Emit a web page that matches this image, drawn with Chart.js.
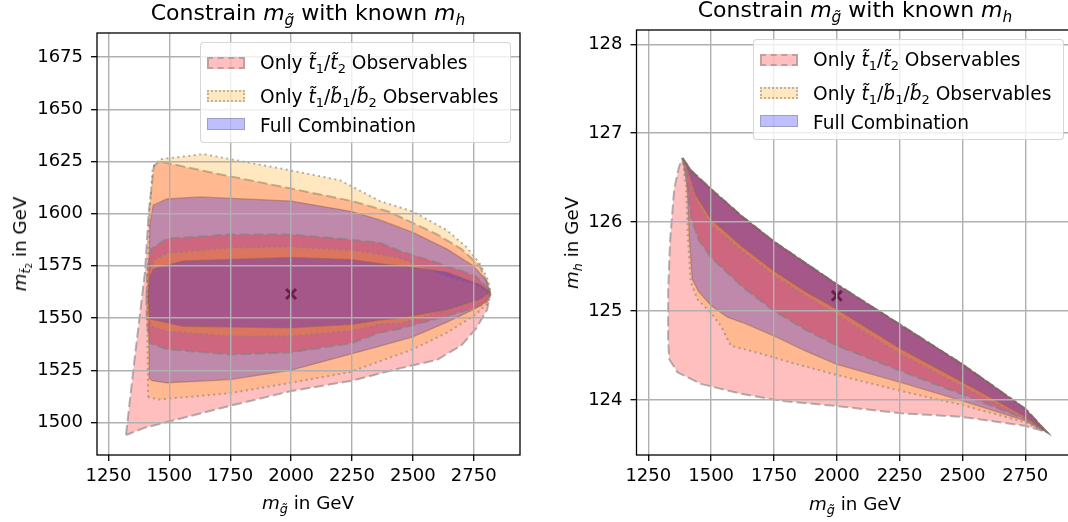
<!DOCTYPE html>
<html>
<head>
<meta charset="utf-8">
<script src="https://cdn.jsdelivr.net/npm/chart.js"></script>
<style>
body { margin: 0; background: #fff; font-family: 'DejaVu Sans', sans-serif; }
#wrap { position: relative; width: 1068px; height: 522px; overflow: hidden; }
canvas { position: absolute; top: 0; }
.txt { position: absolute; white-space: nowrap; color: #000; font-size: 18.3px; line-height: 18px; }
.title { font-size: 22px; line-height: 22px; transform: translateX(-50%); }
.xlab { transform: translateX(-50%); }
.ylab { transform: translate(-50%, -50%) rotate(-90deg); }
sub { font-size: 70%; vertical-align: baseline; position: relative; top: 0.3em; line-height: 0; }
sub sub { top: 0.2em; }
.legend { position: absolute; width: 311px; height: 101px; box-sizing: border-box;
          background: rgba(255,255,255,0.8); border: 1px solid rgba(204,204,204,0.8); border-radius: 4px; }
.sw { position: absolute; left: 6px; width: 38px; height: 12px; box-sizing: border-box; }
.lt { position: absolute; left: 59px; white-space: nowrap; font-size: 18.6px; line-height: 18px; }
</style>
</head>
<body>
<div id="wrap">
  <canvas id="leftChart" width="534" height="522" style="left:0;width:534px;height:522px"></canvas>
  <canvas id="rightChart" width="560" height="522" style="left:534px;width:560px;height:522px"></canvas>

  <div class="txt title" style="left:308px;top:2px">Constrain <i>m</i><sub><i>g&#771;</i></sub> with known <i>m</i><sub><i>h</i></sub></div>
  <div class="txt title" style="left:855px;top:-1px">Constrain <i>m</i><sub><i>g&#771;</i></sub> with known <i>m</i><sub><i>h</i></sub></div>

  <div class="txt xlab" style="left:308px;top:494px"><i>m</i><sub><i>g&#771;</i></sub> in GeV</div>
  <div class="txt xlab" style="left:855px;top:495px"><i>m</i><sub><i>g&#771;</i></sub> in GeV</div>

  <div class="txt ylab" style="left:20px;top:244px"><i>m</i><sub><i>t&#771;</i><sub>2</sub></sub> in GeV</div>
  <div class="txt ylab" style="left:572px;top:243px"><i>m</i><sub><i>h</i></sub> in GeV</div>

  <div class="legend" style="left:200px;top:42px">
    <div class="sw" style="top:14px;background:rgba(255,0,0,0.25);border:2px dashed rgba(128,128,128,0.5)"></div>
    <div class="lt" style="top:11px">Only <i>t&#771;</i><sub>1</sub>/<i>t&#771;</i><sub>2</sub> Observables</div>
    <div class="sw" style="top:47px;background:rgba(255,165,0,0.25);border:2px dotted rgba(128,128,128,0.5)"></div>
    <div class="lt" style="top:45px">Only <i>t&#771;</i><sub>1</sub>/<i>b&#771;</i><sub>1</sub>/<i>b&#771;</i><sub>2</sub> Observables</div>
    <div class="sw" style="top:75px;background:rgba(0,0,255,0.25);border:1.5px solid rgba(128,128,128,0.5)"></div>
    <div class="lt" style="top:74px">Full Combination</div>
  </div>
  <div class="legend" style="left:753px;top:39px">
    <div class="sw" style="top:14px;background:rgba(255,0,0,0.25);border:2px dashed rgba(128,128,128,0.5)"></div>
    <div class="lt" style="top:11px">Only <i>t&#771;</i><sub>1</sub>/<i>t&#771;</i><sub>2</sub> Observables</div>
    <div class="sw" style="top:47px;background:rgba(255,165,0,0.25);border:2px dotted rgba(128,128,128,0.5)"></div>
    <div class="lt" style="top:45px">Only <i>t&#771;</i><sub>1</sub>/<i>b&#771;</i><sub>1</sub>/<i>b&#771;</i><sub>2</sub> Observables</div>
    <div class="sw" style="top:75px;background:rgba(0,0,255,0.25);border:1.5px solid rgba(128,128,128,0.5)"></div>
    <div class="lt" style="top:74px">Full Combination</div>
  </div>
</div>

<script>
// axis ranges and ticks
const xRange = [1203, 2940];
const xTicks = [1250, 1500, 1750, 2000, 2250, 2500, 2750];
const leftYRange = [1484.4, 1686.5];
const leftYTicks = [1500, 1525, 1550, 1575, 1600, 1625, 1650, 1675];
const rightYRange = [123.38, 128.16];
const rightYTicks = [124, 125, 126, 127, 128];

// best-fit point [m_gluino, m_t2] and [m_gluino, m_h]
const leftBest = [2000, 1561.5];
const rightBest = [2000, 125.17];

// left panel contours (m_gluino, m_t2), outer and inner level for each set
const leftRedOuter = [[1322,1494],[1360,1533],[1400,1572],[1415,1600],[1437,1623],[1460,1625],[1700,1619],[2000,1612],[2250,1606],[2400,1601],[2600,1590],[2700,1583],[2775,1575],[2805,1567],[2818,1562],[2805,1554],[2760,1545],[2700,1537],[2600,1530],[2450,1526],[2250,1520],[2000,1515],[1750,1508],[1500,1500.5],[1400,1497.5]];
const leftRedInner = [[1406,1560],[1410,1574],[1425,1583],[1490,1588],[1750,1590],[2000,1590],[2250,1587.5],[2364,1586],[2450,1582],[2640,1575],[2760,1570],[2810,1564],[2818,1561],[2800,1557],[2760,1555],[2640,1551],[2450,1545],[2364,1543],[2250,1538],[2000,1533.5],[1750,1532.5],[1490,1535],[1420,1538],[1407,1548]];
const leftOrangeOuter = [[1413,1512],[1410,1540],[1410,1570],[1418,1600],[1432,1622],[1460,1626],[1640,1628.5],[1800,1625],[1985,1621],[2200,1616],[2365,1606],[2500,1601],[2640,1592],[2720,1584],[2775,1576],[2810,1568],[2820,1562],[2810,1557],[2750,1551],[2640,1543],[2500,1535],[2240,1524],[2000,1519],[1750,1514],[1460,1511]];
const leftOrangeInner = [[1412,1560],[1418,1572],[1440,1578],[1490,1581],[1750,1583.7],[2000,1584],[2250,1582.5],[2364,1580.5],[2450,1578.5],[2640,1570],[2760,1566],[2815,1562],[2760,1558],[2640,1554],[2450,1547.5],[2364,1547],[2250,1544],[2000,1541.3],[1750,1541.3],[1490,1543.7],[1425,1546],[1412,1552]];
const leftBlueOuter = [[1418,1521],[1415,1560],[1420,1595],[1434,1604],[1490,1607],[1625,1608],[2000,1606],[2250,1601],[2364,1597],[2500,1591],[2640,1583],[2747,1575],[2802,1568],[2818,1562],[2800,1558],[2747,1554],[2640,1548],[2500,1541],[2364,1536.5],[2000,1525],[1750,1520.5],[1490,1519],[1430,1520]];
const leftBlueInner = [[1413,1560],[1420,1570],[1434,1573.5],[1557,1577.3],[2002,1579],[2250,1578],[2364,1576],[2446,1575],[2638,1572],[2775,1566],[2816,1562.5],[2775,1559],[2638,1554],[2446,1550],[2364,1549],[2250,1547],[2002,1545.3],[1557,1546],[1420,1549.5]];

// right panel (m_gluino, m_h): all regions share the upper edge, each has its own lower edge
const rightTopEdge = [[1386,126.72],[1420,126.58],[1500,126.37],[1620,126.07],[1750,125.78],[1880,125.53],[2000,125.30],[2250,124.85],[2500,124.40],[2750,123.90],[2835,123.64]];
const rightRedOuterLow = [[2746,123.71],[2494,123.81],[2255,123.85],[2000,123.93],[1777,123.99],[1618,124.07],[1459,124.18],[1366,124.31],[1333,124.46],[1329,124.68],[1329,125.24],[1337,125.8],[1353,126.37],[1372,126.62]];
const rightRedInnerLow = [[2746,123.79],[2500,124.06],[2250,124.33],[2000,124.61],[1875,124.79],[1750,125.00],[1625,125.27],[1500,125.60],[1450,125.80],[1420,126.05],[1408,126.35],[1402,126.55]];
const rightOrangeOuterLow = [[2746,123.75],[2501,123.94],[2255,124.10],[2000,124.28],[1817,124.42],[1685,124.53],[1578,124.61],[1539,124.83],[1499,124.98],[1446,125.13],[1419,125.32],[1408,125.8],[1400,126.4]];
const rightOrangeInnerLow = [[2746,123.80],[2500,124.15],[2250,124.52],[2000,124.96],[1875,125.17],[1750,125.40],[1625,125.67],[1500,125.97],[1440,126.25],[1419,126.44],[1400,126.62]];
const rightBlueOuterLow = [[2746,123.77],[2500,123.99],[2250,124.20],[2000,124.40],[1875,124.55],[1750,124.72],[1625,124.87],[1565,124.93],[1500,125.06],[1450,125.22],[1425,125.36],[1414,125.8],[1405,126.4]];
const rightBlueInnerLow = [[2746,123.82],[2500,124.20],[2250,124.58],[2000,125.02],[1875,125.22],[1750,125.45],[1625,125.72],[1500,126.03],[1440,126.30],[1419,126.48],[1402,126.63]];

const RED = 'rgba(255,0,0,0.25)';
const ORANGE = 'rgba(255,165,0,0.25)';
const BLUE = 'rgba(0,0,255,0.25)';
const EDGE = 'rgba(128,128,128,0.6)';
const SOLID_EDGE = 'rgba(150,100,70,0.5)';

// one closed filled polygon
function contour(points, fill, edge, dash, width, order) {
    const closed = points.concat([points[0]]);
    return {
        data: closed.map(p => ({ x: p[0], y: p[1] })),
        showLine: true,
        fill: 'shape',
        backgroundColor: fill,
        borderColor: edge,
        borderWidth: width,
        borderDash: dash,
        pointRadius: 0,
        pointHoverRadius: 0,
        tension: 0,
        order: order
    };
}

function bestMarker(p) {
    return {
        data: [{ x: p[0], y: p[1] }],
        pointStyle: 'crossRot',
        pointRadius: 7,
        borderWidth: 3,
        borderColor: 'rgba(90,10,60,0.75)',
        backgroundColor: 'rgba(90,10,60,0.75)',
        showLine: false,
        order: 0
    };
}

// draws the four spines like matplotlib
const framePlugin = {
    id: 'frame',
    afterDraw(chart) {
        const a = chart.chartArea;
        const ctx = chart.ctx;
        ctx.save();
        ctx.strokeStyle = '#000';
        ctx.lineWidth = 1.3;
        ctx.strokeRect(a.left, a.top, a.right - a.left, a.bottom - a.top);
        ctx.restore();
    }
};

function axis(range, ticks, fit) {
    return {
        type: 'linear',
        min: range[0],
        max: range[1],
        afterBuildTicks: s => { s.ticks = ticks.map(v => ({ value: v })); },
        afterFit: fit,
        grid: { color: '#b0b0b0', lineWidth: 1.4, z: 1, drawTicks: true, tickLength: 6, tickColor: '#000', tickWidth: 1.3 },
        border: { display: false },
        ticks: {
            color: '#000',
            font: { family: 'DejaVu Sans', size: 18 },
            autoSkip: false,
            maxRotation: 0,
            padding: 5,
            callback: v => String(v)
        }
    };
}

function initializeChart(id, datasets, yRange, yTicks, yWidth, padding) {
    const ctx = document.getElementById(id).getContext('2d');
    const yAxis = axis(yRange, yTicks, s => { s.width = yWidth; });
    yAxis.ticks.padding = 8;
    return new Chart(ctx, {
        type: 'scatter',
        data: { datasets: datasets },
        options: {
            responsive: false,
            animation: false,
            devicePixelRatio: 1,
            layout: { padding: padding },
            scales: {
                x: axis(xRange, xTicks, s => { s.height = 67; }),
                y: yAxis
            },
            plugins: {
                legend: { display: false },
                tooltip: { enabled: false }
            },
            events: []
        },
        plugins: [framePlugin]
    });
}

// left: m_t2 against m_gluino
initializeChart('leftChart', [
    contour(leftRedOuter, RED, EDGE, [10, 4], 2, 6),
    contour(leftOrangeOuter, ORANGE, EDGE, [2, 3.5], 2, 5),
    contour(leftBlueOuter, BLUE, SOLID_EDGE, [], 1.3, 4),
    contour(leftRedInner, RED, EDGE, [10, 4], 2, 3),
    contour(leftOrangeInner, ORANGE, EDGE, [2, 3.5], 2, 2),
    contour(leftBlueInner, BLUE, SOLID_EDGE, [], 1.3, 1),
    bestMarker(leftBest)
], leftYRange, leftYTicks, 97, { top: 33, right: 14, bottom: 0, left: 0 });

// right: m_h against m_gluino
initializeChart('rightChart', [
    contour(rightTopEdge.concat(rightRedOuterLow), RED, EDGE, [10, 4], 2, 6),
    contour(rightTopEdge.concat(rightOrangeOuterLow), ORANGE, EDGE, [2, 3.5], 2, 5),
    contour(rightTopEdge.concat(rightBlueOuterLow), BLUE, SOLID_EDGE, [], 1.3, 4),
    contour(rightTopEdge.concat(rightRedInnerLow), RED, EDGE, [10, 4], 2, 3),
    contour(rightTopEdge.concat(rightOrangeInnerLow), ORANGE, EDGE, [2, 3.5], 2, 2),
    contour(rightTopEdge.concat(rightBlueInnerLow), BLUE, SOLID_EDGE, [], 1.3, 1),
    bestMarker(rightBest)
], rightYRange, rightYTicks, 102.5, { top: 30, right: 21, bottom: 0, left: 0 });
</script>
</body>
</html>
